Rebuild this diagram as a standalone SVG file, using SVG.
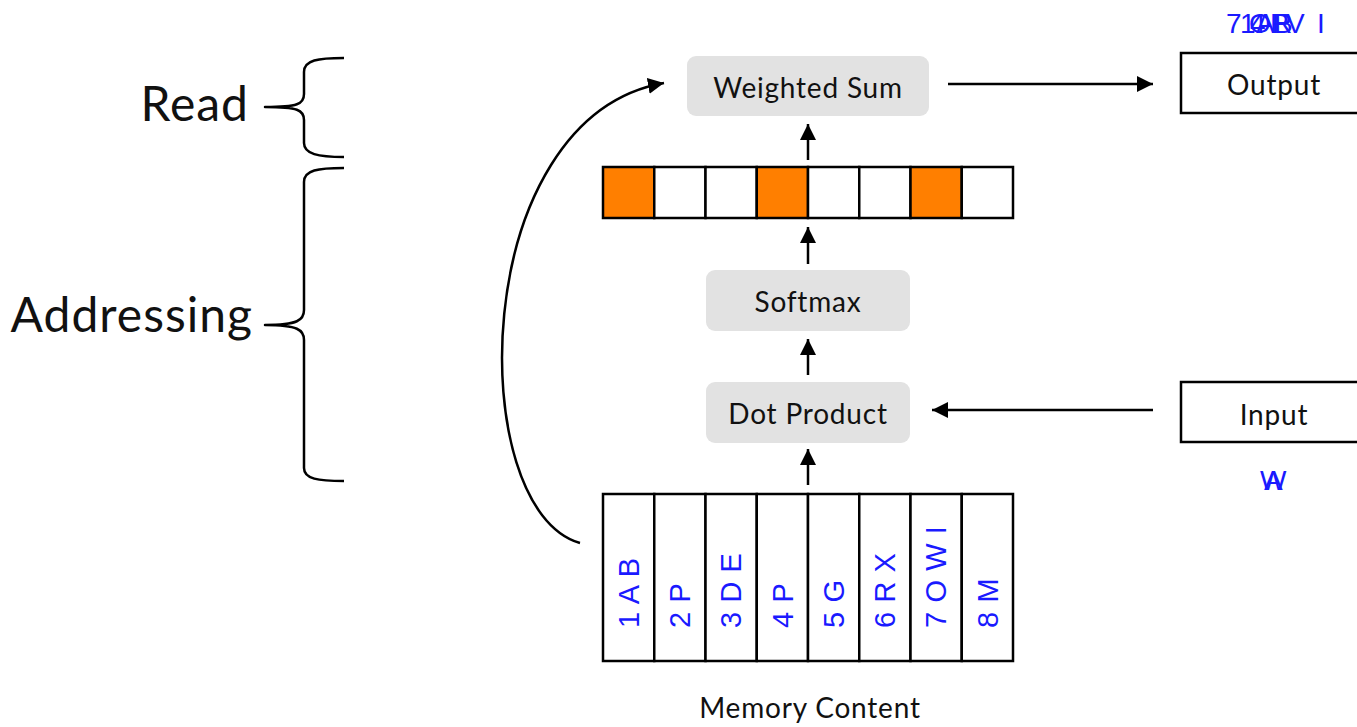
<svg xmlns="http://www.w3.org/2000/svg" width="1357" height="727" viewBox="0 0 1357 727">
  <style>
    .lbl { font-family: Lato, "Open Sans", "Liberation Sans", sans-serif; fill: #111; }
    .node { font-size: 28px; letter-spacing: 0.8px; text-anchor: middle; }
    .big { font-size: 48px; letter-spacing: 1px; text-anchor: end; }
    .proc { fill: #e2e2e2; stroke: none; }
    .io { fill: #fff; stroke: #000; stroke-width: 2.5; }
    .cell { fill: #fff; stroke: #000; stroke-width: 2.5; }
    .hot { fill: #ff7f00; }
    .mem { font-family: "Liberation Sans", Arial, sans-serif; font-size: 29px; letter-spacing: 0.6px; fill: #1a1aff; }
    .tag { font-family: "Liberation Sans", Arial, sans-serif; font-size: 28px; fill: #1a1aff; }
    .wire { fill: none; stroke: #000; stroke-width: 2.5; }
    .brace { fill: none; stroke: #000; stroke-width: 2.5; stroke-linejoin: round; }
  </style>
  <defs>
    <marker id="head" markerUnits="userSpaceOnUse" markerWidth="16" markerHeight="16" refX="16" refY="8" orient="auto">
      <path d="M0,0 L16,8 L0,16 z" fill="#000"/>
    </marker>
  </defs>

  <rect width="1357" height="727" fill="#fff"/>

  <!-- side braces -->
  <g id="read">
    <path class="brace" d="M344,58 C318,58 304,60 304,72 L304,94 C304,104 298,107 265,107 C298,107 304,110 304,120 L304,143 C304,154 318,157 344,157"/>
    <text class="lbl big" x="249" y="121">Read</text>
  </g>
  <g id="addressing">
    <path class="brace" d="M344,168 C318,168 304,170 304,182 L304,310 C304,320 298,325 265,325 C298,325 304,330 304,340 L304,468 C304,479 318,481 344,481"/>
    <text class="lbl big" x="253" y="332">Addressing</text>
  </g>

  <!-- connectors -->
  <g id="connectors">
    <path class="wire" d="M580,543 C464,510 466,118 664,83" marker-end="url(#head)"/>
    <line class="wire" x1="948" y1="84" x2="1153" y2="84" marker-end="url(#head)"/>
    <line class="wire" x1="1153" y1="410" x2="932" y2="410" marker-end="url(#head)"/>
    <line class="wire" x1="808" y1="160" x2="808" y2="124" marker-end="url(#head)"/>
    <line class="wire" x1="808" y1="264" x2="808" y2="227" marker-end="url(#head)"/>
    <line class="wire" x1="808" y1="375" x2="808" y2="339" marker-end="url(#head)"/>
    <line class="wire" x1="808" y1="485" x2="808" y2="449" marker-end="url(#head)"/>
  </g>

  <g id="weighted-sum">
    <rect class="proc" x="687" y="56" width="242" height="60" rx="9"/>
    <text class="lbl node" x="808" y="98">Weighted Sum</text>
  </g>

  <g id="output">
    <rect class="io" x="1181" y="53" width="190" height="60"/>
    <text class="lbl node" x="1274" y="95">Output</text>
  </g>

  <g id="input">
    <rect class="io" x="1181" y="382" width="190" height="60"/>
    <text class="lbl node" x="1274" y="425">Input</text>
  </g>

  <g id="weights">
    <rect class="cell hot" x="603" y="167" width="51.25" height="51"/>
    <rect class="cell" x="654.25" y="167" width="51.25" height="51"/>
    <rect class="cell" x="705.5" y="167" width="51.25" height="51"/>
    <rect class="cell hot" x="756.75" y="167" width="51.25" height="51"/>
    <rect class="cell" x="808" y="167" width="51.25" height="51"/>
    <rect class="cell" x="859.25" y="167" width="51.25" height="51"/>
    <rect class="cell hot" x="910.5" y="167" width="51.25" height="51"/>
    <rect class="cell" x="961.75" y="167" width="51.25" height="51"/>
  </g>

  <g id="softmax">
    <rect class="proc" x="706" y="270" width="204" height="61" rx="9"/>
    <text class="lbl node" x="808" y="312">Softmax</text>
  </g>

  <g id="dot-product">
    <rect class="proc" x="706" y="382" width="204" height="61" rx="9"/>
    <text class="lbl node" x="808" y="424">Dot Product</text>
  </g>

  <g id="memory">
    <rect class="cell" x="603" y="494" width="51.25" height="167"/>
    <rect class="cell" x="654.25" y="494" width="51.25" height="167"/>
    <rect class="cell" x="705.5" y="494" width="51.25" height="167"/>
    <rect class="cell" x="756.75" y="494" width="51.25" height="167"/>
    <rect class="cell" x="808" y="494" width="51.25" height="167"/>
    <rect class="cell" x="859.25" y="494" width="51.25" height="167"/>
    <rect class="cell" x="910.5" y="494" width="51.25" height="167"/>
    <rect class="cell" x="961.75" y="494" width="51.25" height="167"/>
    <text class="mem" transform="translate(639,628) rotate(-90)">1 A B</text>
    <text class="mem" transform="translate(690,628) rotate(-90)">2 P</text>
    <text class="mem" transform="translate(741,628) rotate(-90)">3 D E</text>
    <text class="mem" transform="translate(793,628) rotate(-90)">4 P</text>
    <text class="mem" transform="translate(844,628) rotate(-90)">5 G</text>
    <text class="mem" transform="translate(895,628) rotate(-90)">6 R X</text>
    <text class="mem" transform="translate(946,628) rotate(-90)">7 O W I</text>
    <text class="mem" transform="translate(998,628) rotate(-90)">8 M</text>
    <text class="lbl node" x="810" y="718">Memory Content</text>
  </g>

  <!-- stacked keys above the output -->
  <g id="output-keys">
    <text class="tag" x="1226" y="33">7</text>
    <text class="tag" x="1240" y="33">1</text>
    <text class="tag" x="1249" y="33">O</text>
    <text class="tag" x="1250" y="33">4</text>
    <text class="tag" x="1256" y="33">A</text>
    <text class="tag" x="1270" y="33">P</text>
    <text class="tag" x="1272" y="33">R</text>
    <text class="tag" x="1274" y="33">B</text>
    <text class="tag" x="1286" y="33">V</text>
    <text class="tag" x="1317" y="33">I</text>
  </g>

  <!-- stacked keys below the input -->
  <g id="input-keys">
    <text class="tag" x="1260" y="490">W</text>
    <text class="tag" x="1264" y="490">A</text>
  </g>
</svg>
